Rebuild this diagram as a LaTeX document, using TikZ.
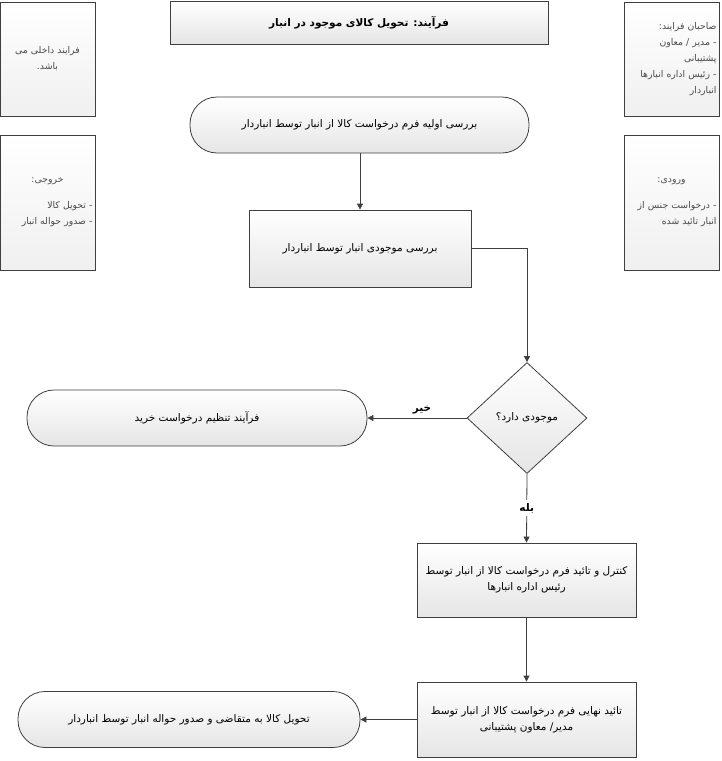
\documentclass[tikz,border=0pt]{standalone}
\usepackage{fontspec}
\usetikzlibrary{arrows.meta,shapes.geometric}
\TeXXeTstate=1
\newfontfamily\fafont[Script=Arabic]{DejaVu Sans}
\definecolor{edge}{HTML}{3F3F3F}
\definecolor{note}{HTML}{4A4A4A}
\tikzset{base/.style={draw=edge,line width=0.8pt,top color=white,bottom color=black!10,
 font=\fafont\fontsize{10.5}{16}\selectfont,align=center,inner sep=2pt},
 stepbox/.style={base,minimum width=#1,minimum height=76pt},
 term/.style={base,rounded corners=27pt,minimum width=#1,minimum height=56pt},
 side/.style={base,minimum width=95pt,minimum height=#1,text width=90pt,align=right,text=note,
 bottom color=black!6,font=\fafont\fontsize{9.3}{16}\selectfont},
 decision/.style={base,diamond,minimum width=120pt,minimum height=111pt,inner sep=0pt},
 arr/.style={-{Triangle[length=6pt,width=6pt]},line width=0.8pt,draw=edge},
 lbl/.style={font=\fafont\bfseries\fontsize{10.5}{12}\selectfont,fill=white,inner sep=3pt}}
\newcommand{\rl}[1]{\beginR #1\endR}

\begin{document}
\begin{tikzpicture}[x=1pt,y=-1pt]
\useasboundingbox (0,0) rectangle (721,761);
\node[base,minimum width=378pt,minimum height=43pt,font=\fafont\bfseries\fontsize{10.5}{12}\selectfont]
 (title) at (359,22.5) {\rl{فرآیند: تحویل کالای موجود در انبار}};
% side notes
\node[side=114pt,align=center] (internal) at (47.5,59) {\rl{فرایند داخلی می}\\\rl{باشد.}};
\node[side=114pt] (owners) at (671.5,59) {\rl{صاحبان فرایند:}\\\rl{- مدیر / معاون}\\\rl{پشتیبانی}\\\rl{- رئیس اداره انبارها}\\\rl{انباردار}};
\node[side=135pt] (outputs) at (47.5,202.5) {\makebox[\linewidth][c]{\rl{خروجی:}}\\[10pt]\rl{- تحویل کالا}\\\rl{- صدور حواله انبار}};
\node[side=135pt] (inputs) at (671.5,202.5) {\makebox[\linewidth][c]{\rl{ورودی:}}\\[10pt]\rl{- درخواست جنس از}\\\rl{انبار تائید شده}};
% flow
\node[term=339pt] (start) at (359.5,125) {\rl{بررسی اولیه فرم درخواست کالا از انبار توسط انباردار}};
\node[stepbox=222pt,minimum height=77pt] (check) at (360,248.5) {\rl{بررسی موجودی انبار توسط انباردار}};
\node[decision] (stock) at (527,418) {\rl{موجودی دارد؟}};
\node[term=340pt] (purchase) at (197,418) {\rl{فرآیند تنظیم درخواست خرید}};
\node[stepbox=219pt,minimum height=74pt] (control) at (526.5,580) {\rl{کنترل و تائید فرم درخواست کالا از انبار توسط}\\\rl{رئیس اداره انبارها}};
\node[stepbox=219pt,minimum height=75pt] (final) at (526.5,719.5) {\rl{تائید نهایی فرم درخواست کالا از انبار توسط}\\\rl{مدیر/ معاون پشتیبانی}};
\node[term=342pt] (deliver) at (189,719.5) {\rl{تحویل کالا به متقاضی و صدور حواله انبار توسط انباردار}};

\draw[arr] (start.south -| check.north) -- (check.north);
\draw[arr] (check.east) -| (stock.north);
\draw[arr] (stock.west) -- node[lbl,pos=0.45,yshift=8pt]{\rl{خیر}} (purchase.east);
\draw[arr] (stock.south) -- node[lbl]{\rl{بله}} (control.north);
\draw[arr] (control.south) -- (final.north);
\draw[arr] (final.west) -- (deliver.east);
\end{tikzpicture}
\end{document}
